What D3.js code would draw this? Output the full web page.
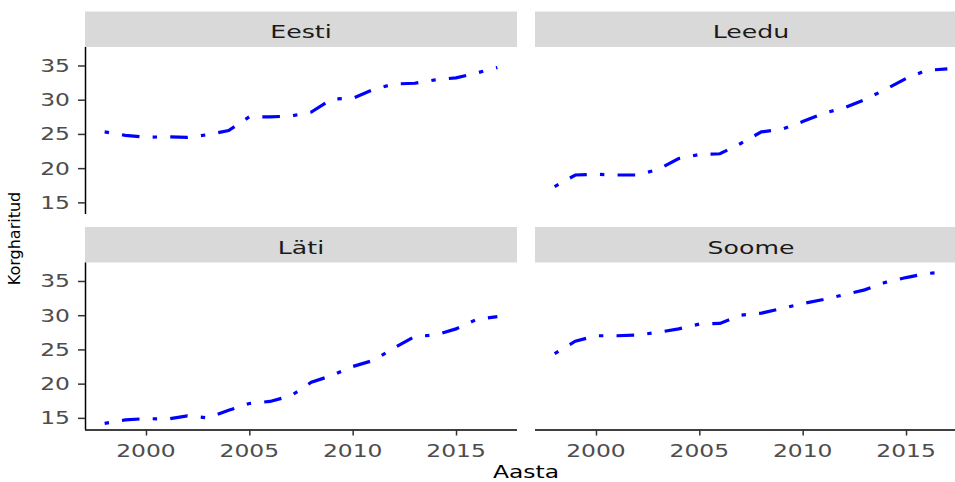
<!DOCTYPE html>
<html>
<head>
<meta charset="utf-8">
<script src="https://cdn.jsdelivr.net/npm/d3@7"></script>
<style>
  html, body { margin: 0; padding: 0; background: #ffffff; }
  svg { display: block; }
</style>
</head>
<body>
<svg id="chart" width="955" height="482"></svg>
<script>
// ---- data ----
const years = [1998, 1999, 2000, 2001, 2002, 2003, 2004, 2005, 2006, 2007,
               2008, 2009, 2010, 2011, 2012, 2013, 2014, 2015, 2016, 2017];
const countries = ["Eesti", "Leedu", "Läti", "Soome"];
const eesti = [25.3, 24.8, 24.5, 24.6, 24.5, 24.9, 25.5, 27.5, 27.5, 27.6,
               28.2, 30.1, 30.2, 31.5, 32.3, 32.4, 32.9, 33.2, 33.9, 34.7];
const leedu = [17.3, 19.0, 19.1, 19.0, 19.0, 19.8, 21.4, 22.0, 22.1, 23.6,
               25.3, 25.7, 26.8, 28.0, 28.8, 30.0, 31.5, 33.1, 34.3, 34.5];
const lati  = [14.2, 14.7, 14.9, 14.8, 15.3, 15.0, 16.1, 17.1, 17.4, 18.2,
               20.2, 21.2, 22.5, 23.4, 25.2, 26.9, 27.1, 28.0, 29.4, 29.8];
const soome = [24.4, 26.2, 27.0, 27.0, 27.1, 27.5, 28.0, 28.7, 28.8, 30.0,
               30.3, 31.0, 31.7, 32.3, 33.0, 33.7, 34.8, 35.5, 36.1, 36.3];
const seriesValues = [eesti, leedu, lati, soome];
const xTicks = [2000, 2005, 2010, 2015];
const yTicks = [15, 20, 25, 30, 35];
const xTitle = "Aasta";
const yTitle = "Korgharitud";

// ---- layout ----
const colX = [[85, 517], [535, 967]];
const rowTop = [47, 262.5];
const panelH = 167;
const stripH = 35.5;
const font = "DejaVu Sans";
const sx = 1.3;

const svg = d3.select("#chart");

const xDom = d3.extent(years);
const xPad = (xDom[1] - xDom[0]) * 0.05;
const yDomain = [13.3, 37.7];

function txt(g, x, y, s, opt) {
  return g.append("text")
    .attr("transform", `translate(${x},${y}) ${opt.rotate ? "rotate(" + opt.rotate + ")" : ""} scale(${opt.sx || 1},1)`)
    .attr("text-anchor", opt.anchor || "middle")
    .attr("font-family", font)
    .attr("font-size", opt.size || 18)
    .attr("fill", opt.fill || "#000")
    .text(s);
}

countries.forEach((name, i) => {
  const col = i % 2, row = Math.floor(i / 2);
  const [x0, x1] = colX[col];
  const top = rowTop[row];
  const x = d3.scaleLinear().domain([xDom[0] - xPad, xDom[1] + xPad]).range([x0, x1]);
  const y = d3.scaleLinear().domain(yDomain).range([top + panelH, top]);
  const g = svg.append("g");

  // strip
  g.append("rect").attr("x", x0).attr("y", top - stripH)
    .attr("width", x1 - x0).attr("height", stripH).attr("fill", "#D9D9D9");
  txt(g, (x0 + x1) / 2, top - 9, name, {sx: 1.4, fill: "#1A1A1A"});

  // line
  const data = years.map((yr, k) => [yr, seriesValues[i][k]]);
  g.append("path")
    .datum(data)
    .attr("fill", "none")
    .attr("stroke", "#0000FF")
    .attr("stroke-width", 3.2)
    .attr("stroke-dasharray", "4.4,13.2,17.6,13.2")
    .attr("stroke-linecap", "butt")
    .attr("d", d3.line().x(d => x(d[0])).y(d => y(d[1])));

  // y axis (left column)
  if (col === 0) {
    const ax = g.append("g").attr("transform", `translate(${x0},0)`)
      .call(d3.axisLeft(y).tickValues(yTicks).tickSize(7).tickFormat(""));
    ax.select(".domain").attr("stroke", "#000").attr("stroke-width", 1.5)
      .attr("d", `M0.5,${top}V${top + panelH}`);
    ax.selectAll(".tick line").attr("stroke", "#333").attr("stroke-width", 1.5);
    yTicks.forEach(t => txt(g, x0 - 15, y(t) + 6.5, String(t), {sx: sx, anchor: "end", fill: "#4D4D4D"}));
  }
  // x axis (bottom row)
  if (row === 1) {
    const ax = g.append("g").attr("transform", `translate(0,${top + panelH})`)
      .call(d3.axisBottom(x).tickValues(xTicks).tickSize(6).tickFormat(""));
    ax.select(".domain").attr("stroke", "#000").attr("stroke-width", 1.5)
      .attr("d", `M${x0},0.5H${x1}`);
    ax.selectAll(".tick line").attr("stroke", "#333").attr("stroke-width", 1.5);
    xTicks.forEach(t => txt(g, x(t), top + panelH + 27.5, String(t), {sx: sx, fill: "#4D4D4D"}));
  }
});

// axis titles
txt(svg, 526, 477.5, xTitle, {sx: sx});
txt(svg, 20, 238.5, yTitle, {rotate: -90, size: 16});
</script>
</body>
</html>
